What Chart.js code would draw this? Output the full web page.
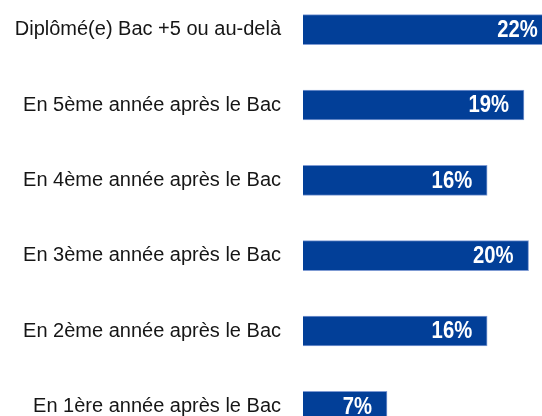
<!DOCTYPE html>
<html>
<head>
<meta charset="utf-8">
<script src="https://cdn.jsdelivr.net/npm/chart.js@4.4.0/dist/chart.umd.min.js"></script>
<style>
  html, body { margin: 0; padding: 0; background: #ffffff; overflow: hidden; width: 542px; height: 416px; }
  #wrap { position: absolute; left: 0; top: -8px; width: 580px; height: 452px; }
</style>
</head>
<body>
<div id="wrap"><canvas id="c"></canvas></div>
<script>
const categories = [
  "Diplômé(e) Bac +5 ou au-delà",
  "En 5ème année après le Bac",
  "En 4ème année après le Bac",
  "En 3ème année après le Bac",
  "En 2ème année après le Bac",
  "En 1ère année après le Bac"
];
const shares = [21.7, 19.2, 16.0, 19.6, 16.0, 7.3];
const shareLabels = ["22%", "19%", "16%", "20%", "16%", "7%"];

const valueLabelPlugin = {
  id: 'valueLabels',
  afterDatasetsDraw(chart) {
    const ctx = chart.ctx;
    const meta = chart.getDatasetMeta(0);
    const sx = 0.88;
    meta.data.forEach((bar, i) => {
      ctx.save();
      ctx.fillStyle = '#ffffff';
      ctx.font = "bold 23px 'Liberation Sans', Arial, sans-serif";
      ctx.textAlign = 'right';
      ctx.textBaseline = 'middle';
      ctx.translate(bar.x - 15, bar.y + 1);
      ctx.scale(sx, 1);
      ctx.fillText(shareLabels[i], 0, 0);
      ctx.restore();
    });
  }
};

new Chart(document.getElementById('c'), {
  type: 'bar',
  data: {
    labels: categories,
    datasets: [{
      data: shares,
      backgroundColor: '#023f98',
      borderColor: '#7f9bd3',
      borderWidth: 1,
      barThickness: 30
    }]
  },
  options: {
    indexAxis: 'y',
    responsive: true,
    maintainAspectRatio: false,
    animation: false,
    layout: { padding: 0 },
    plugins: { legend: { display: false }, tooltip: { enabled: false } },
    scales: {
      x: { display: false, min: 0, max: 24.07 },
      y: {
        grid: { display: false, drawTicks: false },
        border: { display: false },
        ticks: {
          color: '#161616',
          padding: 22,
          font: { family: "'Liberation Sans', Arial, sans-serif", size: 20 }
        },
        afterFit(scale) {
          scale.width = 303;
          scale.paddingTop = 0;
          scale.paddingBottom = 0;
        }
      }
    }
  },
  plugins: [valueLabelPlugin]
});
</script>
</body>
</html>
